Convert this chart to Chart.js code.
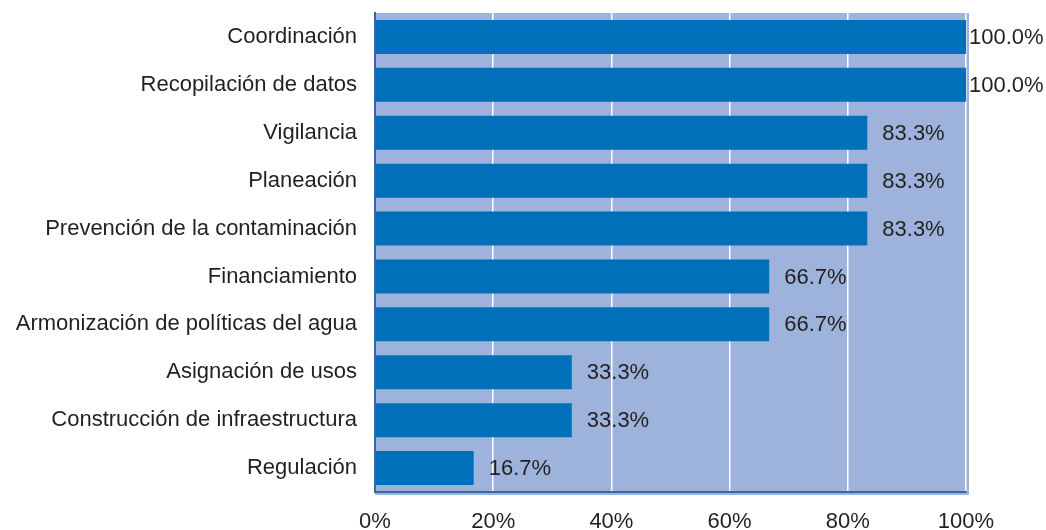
<!DOCTYPE html>
<html>
<head>
<meta charset="utf-8">
<script src="https://cdn.jsdelivr.net/npm/chart.js@4/dist/chart.umd.min.js"></script>
<style>
  body { margin: 0; background: #fff; }
  #chart { display: block; }
</style>
</head>
<body>
<canvas id="chart" width="1046" height="530"></canvas>
<script>
// categorias y porcentajes
const categories = [
  "Coordinación",
  "Recopilación de datos",
  "Vigilancia",
  "Planeación",
  "Prevención de la contaminación",
  "Financiamiento",
  "Armonización de políticas del agua",
  "Asignación de usos",
  "Construcción de infraestructura",
  "Regulación"
];
const values = [100, 100, 83.3, 83.3, 83.3, 66.7, 66.7, 33.3, 33.3, 16.7];
const tickValues = [0, 20, 40, 60, 80, 100];

const FONT = "'Liberation Sans', Arial, sans-serif";
const TEXT = "#231f20";

// fondo azul claro del area de trazado
const plotBg = {
  id: "plotBg",
  beforeDraw(chart) {
    const { ctx, chartArea: a } = chart;
    ctx.save();
    ctx.fillStyle = "#9db3db";
    ctx.fillRect(a.left, a.top, a.right - a.left + 3, a.bottom - a.top + 3);
    ctx.restore();
  }
};

// etiquetas de valor al final de cada barra
const barLabels = {
  id: "barLabels",
  afterDatasetsDraw(chart) {
    const { ctx } = chart;
    const meta = chart.getDatasetMeta(0);
    ctx.save();
    ctx.font = "22px " + FONT;
    ctx.fillStyle = TEXT;
    ctx.textBaseline = "middle";
    ctx.textAlign = "left";
    meta.data.forEach((bar, i) => {
      const v = values[i];
      const off = v >= 100 ? 3 : 15;
      ctx.fillText(v.toFixed(1) + "%", bar.x + off, bar.y + 1);
    });
    ctx.restore();
  }
};

new Chart(document.getElementById("chart"), {
  type: "bar",
  data: {
    labels: categories,
    datasets: [{
      data: values,
      backgroundColor: "#0070ba",
      borderWidth: 0,
      barPercentage: 0.71,
      categoryPercentage: 1
    }]
  },
  options: {
    indexAxis: "y",
    responsive: false,
    animation: false,
    layout: { padding: { top: 13, right: 80, left: 0, bottom: 0 } },
    plugins: {
      legend: { display: false },
      tooltip: { enabled: false }
    },
    scales: {
      x: {
        min: 0,
        max: 100,
        afterFit(s) { s.height = 38; },
        afterBuildTicks(s) { s.ticks = tickValues.map(v => ({ value: v })); },
        grid: {
          color: (c) => c.index === 0 ? "rgba(0,0,0,0)" : "#ffffff",
          lineWidth: 1.5,
          drawTicks: false
        },
        border: { display: true, color: "#3468a8", width: 2 },
        ticks: {
          padding: 17,
          color: TEXT,
          font: { family: FONT, size: 22 },
          callback: (v) => v + "%"
        }
      },
      y: {
        afterFit(s) {
          s.width = 375;
          s.paddingTop = 0;
          s.paddingBottom = 0;
        },
        grid: { display: false, drawTicks: false },
        border: { display: true, color: "#3468a8", width: 2 },
        ticks: {
          padding: 18,
          color: TEXT,
          font: { family: FONT, size: 22 }
        }
      }
    }
  },
  plugins: [plotBg, barLabels]
});
</script>
</body>
</html>
